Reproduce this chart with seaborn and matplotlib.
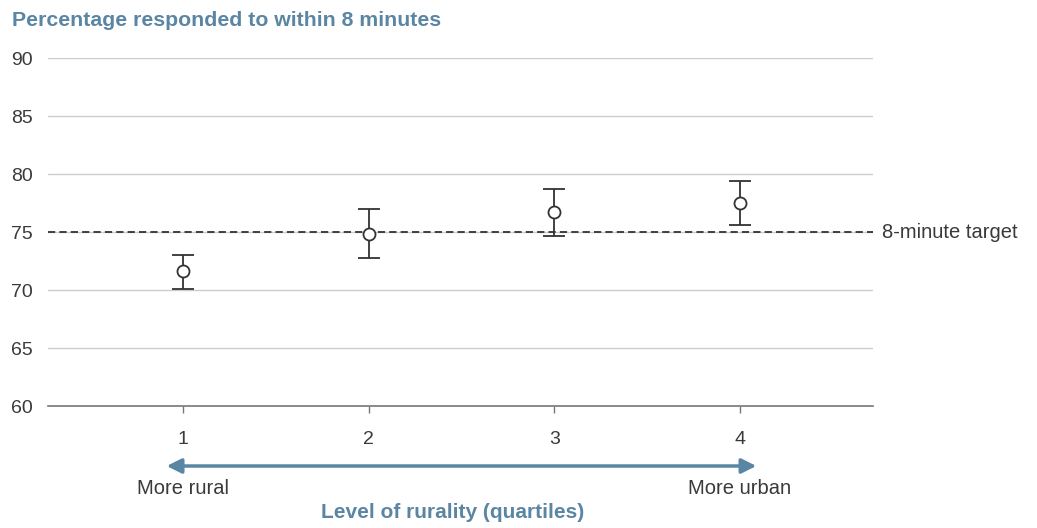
import matplotlib
matplotlib.use("Agg")
import matplotlib.pyplot as plt
import matplotlib.transforms as mtransforms
import seaborn as sns
import pandas as pd
import numpy as np

# data
quartiles = [1, 2, 3, 4]
pct = [71.6, 74.8, 76.7, 77.5]
ci_low = [70.1, 72.8, 74.7, 75.6]
ci_high = [73.0, 77.0, 78.7, 79.4]
target = 75
y_ticks = [60, 65, 70, 75, 80, 85, 90]

blue = "#5b86a3"
dark = "#333333"
text_col = "#3a3a3a"

sns.set_theme(style="white")
plt.rcParams["font.family"] = ["Liberation Sans", "DejaVu Sans"]

df = pd.DataFrame({"quartile": quartiles, "pct": pct})

fig = plt.figure(figsize=(10.37, 5.28), dpi=100)
ax = fig.add_axes([0.0463, 0.231, 0.842 - 0.0463, 0.890 - 0.231])

for y in y_ticks[1:]:
    ax.axhline(y, color="#cccccc", lw=1, zorder=0)
ax.axhline(target, color=dark, lw=1.3, ls=(0, (4, 2.3)), zorder=1)

yerr = np.array([np.array(pct) - np.array(ci_low), np.array(ci_high) - np.array(pct)])
ax.errorbar(quartiles, pct, yerr=yerr, fmt="none", ecolor=dark, elinewidth=1.3,
            capsize=8, capthick=1.3, zorder=2)
sns.scatterplot(data=df, x="quartile", y="pct", ax=ax, marker="o", s=75,
                facecolor="white", edgecolor=dark, linewidth=1.3, zorder=3)

ax.set_xlim(0.27, 4.72)
ax.set_ylim(60, 90)
ax.set_yticks(y_ticks)
ax.set_xticks(quartiles)
ax.set_xticklabels([str(q) for q in quartiles])
ax.set_xlabel("")
ax.set_ylabel("")
for s in ["top", "right", "left"]:
    ax.spines[s].set_visible(False)
ax.spines["bottom"].set_color("#777777")
ax.spines["bottom"].set_linewidth(1.2)
ax.tick_params(axis="y", length=0, pad=11, labelsize=14, labelcolor=text_col)
ax.tick_params(axis="x", length=5, width=1, color="#777777", direction="out",
               pad=13, labelsize=14, labelcolor=text_col, bottom=True)

ax.text(4.72 + 0.05, target, "8-minute target", va="center", ha="left",
        fontsize=14.5, color=text_col, clip_on=False)

fig.text(12 / 1037, 1 - 20 / 528, "Percentage responded to within 8 minutes",
         fontsize=15.3, fontweight="bold", color=blue, va="center", ha="left")

# rurality arrow under the axis
trans = mtransforms.blended_transform_factory(ax.transData, fig.transFigure)
y_arrow = 1 - 466 / 528
ax.annotate("", xy=(4.09, y_arrow), xytext=(0.91, y_arrow), xycoords=trans,
            textcoords=trans,
            arrowprops=dict(arrowstyle="<|-|>", color=blue, lw=2.5,
                            mutation_scale=22, shrinkA=0, shrinkB=0),
            annotation_clip=False)
ax.text(1, 1 - 489 / 528, "More rural", transform=trans, ha="center", va="center",
        fontsize=14.5, color=text_col)
ax.text(4, 1 - 489 / 528, "More urban", transform=trans, ha="center", va="center",
        fontsize=14.5, color=text_col)
ax.text(2.45, 1 - 513 / 528, "Level of rurality (quartiles)", transform=trans,
        ha="center", va="center", fontsize=15, fontweight="bold", color=blue)

fig.savefig("out.png", dpi=100)
